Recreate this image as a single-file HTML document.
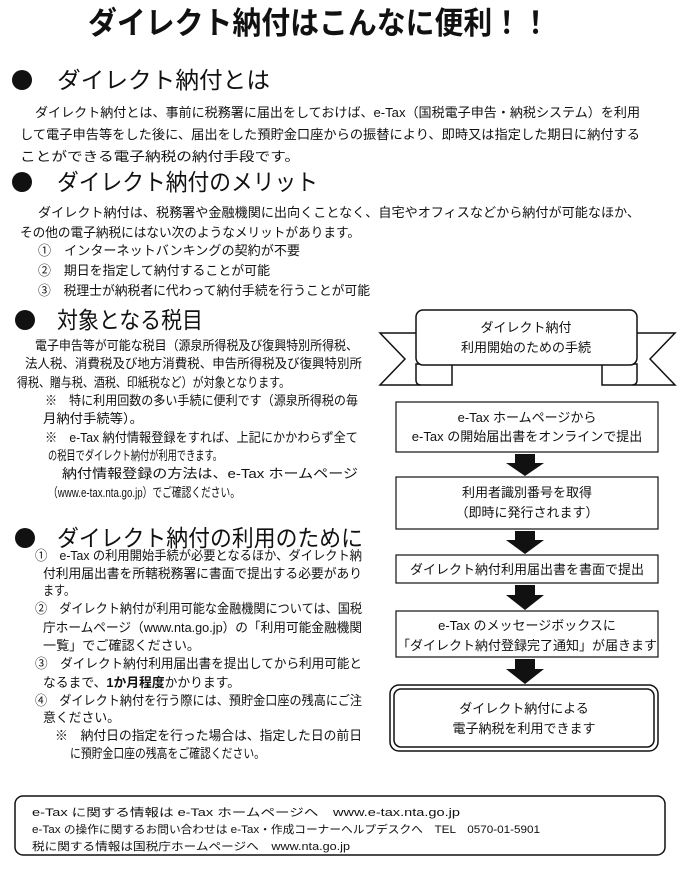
<!DOCTYPE html>
<html><head><meta charset="utf-8"><style>
html,body{margin:0;padding:0;background:#fff;}
svg{display:block;}
text{font-family:"Liberation Sans","Noto Sans CJK JP",sans-serif;fill:#111;}
.b{font-size:13px;}
.h{font-size:23px;}
.f{font-size:11px;}
</style></head><body>
<svg width="682" height="873" viewBox="0 0 682 873" xmlns="http://www.w3.org/2000/svg">
<text x="88" y="34" font-size="31" font-weight="bold" textLength="462" lengthAdjust="spacingAndGlyphs">ダイレクト納付はこんなに便利！！</text>

<circle cx="22" cy="80" r="10" fill="#111"/>
<text class="h" x="57" y="88" textLength="213" lengthAdjust="spacingAndGlyphs">ダイレクト納付とは</text>
<text class="b" x="35" y="117" textLength="605" lengthAdjust="spacingAndGlyphs">ダイレクト納付とは、事前に税務署に届出をしておけば、e-Tax（国税電子申告・納税システム）を利用</text>
<text class="b" x="20" y="139" textLength="620" lengthAdjust="spacingAndGlyphs">して電子申告等をした後に、届出をした預貯金口座からの振替により、即時又は指定した期日に納付する</text>
<text class="b" x="20" y="161" textLength="280" lengthAdjust="spacingAndGlyphs">ことができる電子納税の納付手段です。</text>

<circle cx="22" cy="182" r="10" fill="#111"/>
<text class="h" x="57" y="190" textLength="261" lengthAdjust="spacingAndGlyphs">ダイレクト納付のメリット</text>
<text class="b" x="38" y="217" textLength="602" lengthAdjust="spacingAndGlyphs">ダイレクト納付は、税務署や金融機関に出向くことなく、自宅やオフィスなどから納付が可能なほか、</text>
<text class="b" x="20" y="237" textLength="340" lengthAdjust="spacingAndGlyphs">その他の電子納税にはない次のようなメリットがあります。</text>
<text class="b" x="38" y="255" textLength="262" lengthAdjust="spacingAndGlyphs">①　インターネットバンキングの契約が不要</text>
<text class="b" x="38" y="275" textLength="232" lengthAdjust="spacingAndGlyphs">②　期日を指定して納付することが可能</text>
<text class="b" x="38" y="295" textLength="332" lengthAdjust="spacingAndGlyphs">③　税理士が納税者に代わって納付手続を行うことが可能</text>

<circle cx="25" cy="320" r="10" fill="#111"/>
<text class="h" x="57" y="328" textLength="146" lengthAdjust="spacingAndGlyphs">対象となる税目</text>
<text class="b" x="35" y="350" textLength="323" lengthAdjust="spacingAndGlyphs">電子申告等が可能な税目（源泉所得税及び復興特別所得税、</text>
<text class="b" x="25" y="368" textLength="337" lengthAdjust="spacingAndGlyphs">法人税、消費税及び地方消費税、申告所得税及び復興特別所</text>
<text class="b" x="17" y="387" textLength="273" lengthAdjust="spacingAndGlyphs">得税、贈与税、酒税、印紙税など）が対象となります。</text>
<text class="b" x="45" y="405" textLength="313" lengthAdjust="spacingAndGlyphs">※　特に利用回数の多い手続に便利です（源泉所得税の毎</text>
<text class="b" x="43" y="423" textLength="100" lengthAdjust="spacingAndGlyphs">月納付手続等）。</text>
<text class="b" x="45" y="442" textLength="313" lengthAdjust="spacingAndGlyphs">※　e-Tax 納付情報登録をすれば、上記にかかわらず全て</text>
<text class="b" x="48" y="460" textLength="174" lengthAdjust="spacingAndGlyphs">の税目でダイレクト納付が利用できます。</text>
<text class="b" x="62" y="478" textLength="296" lengthAdjust="spacingAndGlyphs">納付情報登録の方法は、e-Tax ホームページ</text>
<text class="b" x="48" y="497" textLength="192" lengthAdjust="spacingAndGlyphs">（www.e-tax.nta.go.jp）でご確認ください。</text>

<circle cx="25" cy="538" r="10" fill="#111"/>
<text class="h" x="57" y="546" textLength="306" lengthAdjust="spacingAndGlyphs">ダイレクト納付の利用のために</text>
<text class="b" x="35" y="560" textLength="327" lengthAdjust="spacingAndGlyphs">①　e-Tax の利用開始手続が必要となるほか、ダイレクト納</text>
<text class="b" x="43" y="578" textLength="319" lengthAdjust="spacingAndGlyphs">付利用届出書を所轄税務署に書面で提出する必要があり</text>
<text class="b" x="43" y="595" textLength="32" lengthAdjust="spacingAndGlyphs">ます。</text>
<text class="b" x="35" y="613" textLength="327" lengthAdjust="spacingAndGlyphs">②　ダイレクト納付が利用可能な金融機関については、国税</text>
<text class="b" x="43" y="632" textLength="319" lengthAdjust="spacingAndGlyphs">庁ホームページ（www.nta.go.jp）の「利用可能金融機関</text>
<text class="b" x="43" y="650" textLength="157" lengthAdjust="spacingAndGlyphs">一覧」でご確認ください。</text>
<text class="b" x="35" y="668" textLength="327" lengthAdjust="spacingAndGlyphs">③　ダイレクト納付利用届出書を提出してから利用可能と</text>
<text class="b" x="43" y="687" textLength="197" lengthAdjust="spacingAndGlyphs">なるまで、<tspan font-weight="bold">1か月程度</tspan>かかります。</text>
<text class="b" x="35" y="705" textLength="327" lengthAdjust="spacingAndGlyphs">④　ダイレクト納付を行う際には、預貯金口座の残高にご注</text>
<text class="b" x="43" y="722" textLength="77" lengthAdjust="spacingAndGlyphs">意ください。</text>
<text class="b" x="55" y="740" textLength="307" lengthAdjust="spacingAndGlyphs">※　納付日の指定を行った場合は、指定した日の前日</text>
<text class="b" x="70" y="758" textLength="195" lengthAdjust="spacingAndGlyphs">に預貯金口座の残高をご確認ください。</text>

<!-- ribbon -->
<g stroke="#111" stroke-width="1.5" fill="#fff">
<polygon points="380,333 420,333 420,385 380,385 405,359"/>
<polygon points="675,333 633,333 633,385 675,385 650,359"/>
<path d="M416,364 L416,380 Q416,385 421,385 L452,385 L452,364 Z"/>
<path d="M637,364 L637,380 Q637,385 632,385 L602,385 L602,364 Z"/>
<rect x="416" y="310" width="221" height="55" rx="7"/>
</g>
<text class="b" x="526" y="332" text-anchor="middle">ダイレクト納付</text>
<text class="b" x="526" y="352" text-anchor="middle">利用開始のための手続</text>

<g stroke="#111" stroke-width="1.2" fill="#fff">
<rect x="396" y="402" width="262" height="50"/>
<rect x="396" y="477" width="262" height="52"/>
<rect x="396" y="555" width="262" height="28"/>
<rect x="396" y="611" width="262" height="46"/>
<rect x="390" y="685" width="268" height="66" rx="9" stroke-width="1.5"/>
<rect x="394" y="689" width="260" height="58" rx="7" stroke-width="1.5"/>
</g>
<text class="b" x="527" y="422" text-anchor="middle" font-size="12">e-Tax ホームページから</text>
<text class="b" x="527" y="441" text-anchor="middle" font-size="12">e-Tax の開始届出書をオンラインで提出</text>
<text class="b" x="527" y="497" text-anchor="middle" font-size="12">利用者識別番号を取得</text>
<text class="b" x="527" y="517" text-anchor="middle" font-size="12">（即時に発行されます）</text>
<text class="b" x="527" y="574" text-anchor="middle" font-size="12">ダイレクト納付利用届出書を書面で提出</text>
<text class="b" x="527" y="630" text-anchor="middle" font-size="12">e-Tax のメッセージボックスに</text>
<text class="b" x="527" y="650" text-anchor="middle" font-size="12">「ダイレクト納付登録完了通知」が届きます</text>
<text class="b" x="524" y="713" text-anchor="middle" font-size="12">ダイレクト納付による</text>
<text class="b" x="524" y="733" text-anchor="middle" font-size="12">電子納税を利用できます</text>

<g fill="#111">
<polygon points="515,454 535,454 535,463 544,463 525,476 506,463 515,463"/>
<polygon points="515,531 535,531 535,540 544,540 525,554 506,540 515,540"/>
<polygon points="515,585 535,585 535,595 544,595 525,610 506,595 515,595"/>
<polygon points="515,659 535,659 535,669 544,669 525,684 506,669 515,669"/>
</g>

<rect x="15" y="796" width="650" height="59" rx="8" fill="none" stroke="#111" stroke-width="1.5"/>
<text class="f" x="32" y="816" textLength="428" lengthAdjust="spacingAndGlyphs">e-Tax に関する情報は e-Tax ホームページへ　www.e-tax.nta.go.jp</text>
<text class="f" x="32" y="833" textLength="508" lengthAdjust="spacingAndGlyphs">e-Tax の操作に関するお問い合わせは e-Tax・作成コーナーヘルプデスクへ　TEL　0570-01-5901</text>
<text class="f" x="32" y="850" textLength="318" lengthAdjust="spacingAndGlyphs">税に関する情報は国税庁ホームページへ　www.nta.go.jp</text>
</svg>
</body></html>
